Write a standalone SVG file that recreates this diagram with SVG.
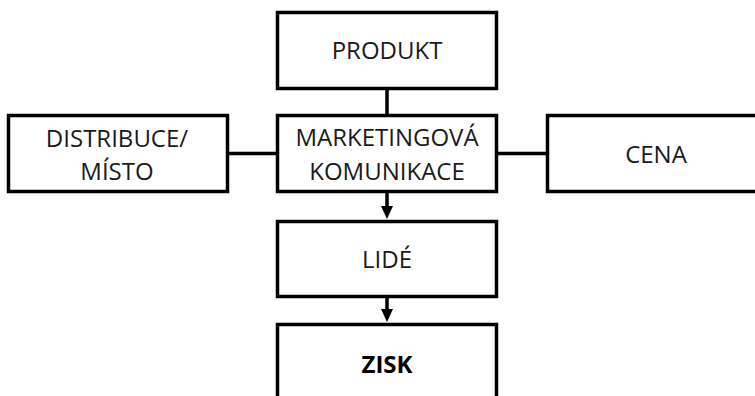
<svg xmlns="http://www.w3.org/2000/svg" width="755" height="396" viewBox="0 0 755 396">
<style>
.box{fill:#fff;stroke:#000;stroke-width:3.5}
.t{font-family:"Open Sans","Noto Sans",sans-serif;font-size:24px;fill:#1a1a1a;text-anchor:middle}
.b{font-weight:bold;fill:#000}
.c{stroke:#000;stroke-width:3.5;fill:none}
.h{fill:#000}
</style>
<rect width="755" height="396" fill="#fff"/>
<g id="connectors">
<line class="c" x1="387" y1="89" x2="387" y2="115"/>
<line class="c" x1="228" y1="153.5" x2="277" y2="153.5"/>
<line class="c" x1="497" y1="153.5" x2="547" y2="153.5"/>
<line class="c" x1="387" y1="192" x2="387" y2="207"/>
<path class="h" d="M381,206 L393,206 L387,219 Z"/>
<line class="c" x1="387" y1="297" x2="387" y2="310"/>
<path class="h" d="M381,309 L393,309 L387,322 Z"/>
</g>
<g id="produkt">
<rect class="box" x="277.5" y="12.5" width="219" height="76"/>
<text class="t" x="387" y="59">PRODUKT</text>
</g>
<g id="marketing">
<rect class="box" x="277.5" y="115.5" width="219" height="76"/>
<text class="t" x="387" y="146">MARKETINGOVÁ</text>
<text class="t" x="387" y="180">KOMUNIKACE</text>
</g>
<g id="distribuce">
<rect class="box" x="8.5" y="115.5" width="219" height="76"/>
<text class="t" x="117" y="147">DISTRIBUCE/</text>
<text class="t" x="117" y="180">MÍSTO</text>
</g>
<g id="cena">
<rect class="box" x="547.5" y="115.5" width="230" height="76"/>
<text class="t" x="656" y="163">CENA</text>
</g>
<g id="lide">
<rect class="box" x="277.5" y="221.5" width="219" height="75"/>
<text class="t" x="387" y="268">LIDÉ</text>
</g>
<g id="zisk">
<rect class="box" x="277.5" y="324.5" width="219" height="90"/>
<text class="t b" x="387" y="373">ZISK</text>
</g>
</svg>
